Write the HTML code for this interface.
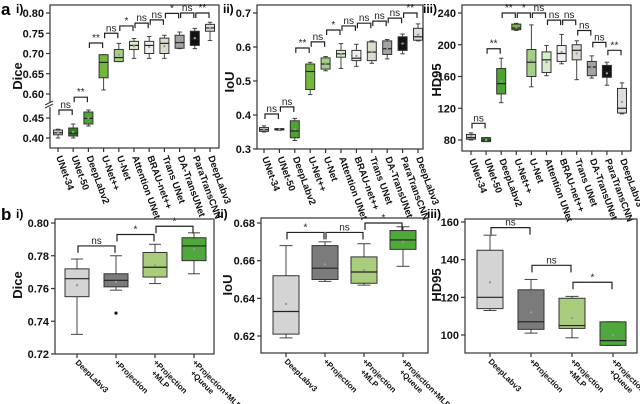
<!DOCTYPE html>
<html><head><meta charset="utf-8">
<style>
body{margin:0;background:#fff;}
svg{display:block;font-family:"Liberation Sans",Arial,sans-serif;font-weight:bold;}
</style></head><body>
<svg id="fig" width="640" height="404" viewBox="0 0 640 404" xmlns="http://www.w3.org/2000/svg">
<text x="1" y="15" font-size="17">a</text>
<text x="16" y="13" font-size="12">i)</text>
<text x="223" y="13" font-size="12">ii)</text>
<text x="423" y="13" font-size="12">iii)</text>
<text x="1" y="220" font-size="17">b</text>
<text x="16" y="218" font-size="12">i)</text>
<text x="217" y="218" font-size="12">ii)</text>
<text x="427" y="218" font-size="12">iii)</text>
</svg>
<script>
// ---------- data ----------
const catsA = ["UNet-34","UNet-50","DeepLabv2","U-Net++","U-Net","Attention UNet","BRAU-net++","Trans UNet","DA-TransUNet","ParaTransCNN","DeepLabv3"];
const colorsA = ["#cfcfcf","#2f7a1f","#4da332","#73b83a","#a6cf86","#d7ecc9","#f1f1f1","#dcdccc","#a3a3a3","#111111","#dedede"];
// [min, q1, median, q3, max]
const diceA = [[0.40,0.408,0.413,0.42,0.422],[0.40,0.405,0.412,0.425,0.435],[0.43,0.435,0.449,0.465,0.47],[0.61,0.64,0.678,0.697,0.697],[0.68,0.68,0.69,0.71,0.725],[0.688,0.71,0.72,0.73,0.737],[0.688,0.70,0.72,0.73,0.742],[0.688,0.70,0.725,0.738,0.745],[0.712,0.713,0.727,0.745,0.753],[0.712,0.72,0.735,0.755,0.762],[0.732,0.755,0.763,0.772,0.777]];
const diceAMean = [0.414,0.415,0.45,0.67,0.697,0.718,0.716,0.718,0.73,0.738,0.762];
const iouA = [[0.35,0.352,0.357,0.363,0.368],[0.355,0.356,0.358,0.36,0.36],[0.325,0.333,0.353,0.383,0.39],[0.46,0.475,0.528,0.55,0.555],[0.53,0.535,0.55,0.568,0.572],[0.537,0.57,0.58,0.59,0.61],[0.543,0.56,0.567,0.59,0.608],[0.552,0.56,0.585,0.615,0.618],[0.565,0.578,0.595,0.618,0.622],[0.58,0.59,0.61,0.63,0.638],[0.618,0.62,0.63,0.655,0.668]];
const iouAMean = [0.357,0.358,0.358,0.518,0.552,0.578,0.574,0.586,0.597,0.61,0.636];
const hdA = [[80,81,83,87,89],[78,78,80,83,83],[127,138,151,170,183],[218,219,221,226,227],[147,160,178,194,225],[161,165,181,191,199],[176,179,189,199,213],[156,181,193,200,205],[158,161,172,179,186],[149,159,166,174,178],[113,114,120,145,152]];
const hdAMean = [85,80,154,222,180,178,191,189,172,164,128];
// brackets: [from, to, label, value]
const diceABr = [[0,1,"ns",0.47],[1,2,"**",0.502],[2,3,"**",0.726],[3,4,"ns",0.75],[4,5,"*",0.768],[5,6,"ns",0.775],[6,7,"ns",0.783],[7,8,"*",0.799],[8,9,"ns",0.80],[9,10,"**",0.80]];
const iouABr = [[0,1,"ns",0.403],[1,2,"ns",0.424],[2,3,"**",0.597],[3,4,"ns",0.615],[4,5,"*",0.65],[5,6,"ns",0.662],[6,7,"ns",0.67],[7,8,"ns",0.676],[8,9,"ns",0.685],[9,10,"**",0.70]];
const hdABr = [[0,1,"ns",101],[1,2,"**",195],[2,3,"**",240],[3,4,"*",240],[4,5,"ns",240],[5,6,"ns",231],[6,7,"ns",231],[7,8,"ns",218],[8,9,"ns",203],[9,10,"**",193]];
const diceTicks = [0.40,0.45,0.60,0.65,0.70,0.75,0.80];
const iouATicks = [0.3,0.4,0.5,0.6,0.7];
const hdATicks = [80,120,160,200,240];

const catsB = [["DeepLabv3"],["+Projection"],["+Projection","+MLP"],["+Projection+MLP","+Queue"]];
const colorsB = ["#d4d4d4","#7b7b7b","#a9cd7c","#4fa83b"];
const diceB = [[0.732,0.755,0.766,0.772,0.778],[0.759,0.761,0.765,0.769,0.780],[0.763,0.767,0.773,0.782,0.787],[0.769,0.777,0.786,0.791,0.794]];
const diceBMean = [0.762,0.764,0.774,0.784];
const diceBOut = [[],[0.745],[],[]];
const iouB = [[0.619,0.621,0.633,0.652,0.668],[0.649,0.650,0.656,0.668,0.670],[0.647,0.648,0.654,0.662,0.669],[0.657,0.666,0.671,0.676,0.678]];
const iouBMean = [0.637,0.658,0.655,0.670];
const hdB = [[113,114,120,145,153],[101,103,107,124,129.5],[98.5,103.5,105,119.5,120.5],[94.5,94.5,97,107,107]];
const hdBMean = [128,112,109,100];
const diceBBr = [[0,1,"ns",0.786],[1,2,"*",0.793],[2,3,"*",0.798]];
const iouBBr = [[0,1,"*",0.675],[1,2,"ns",0.675],[2,3,"*",0.680]];
const hdBBr = [[0,1,"ns",157],[1,2,"ns",137],[2,3,"*",128]];
const diceBTicks = [0.72,0.74,0.76,0.78,0.80];
const iouBTicks = [0.62,0.64,0.66,0.68];
const hdBTicks = [100,120,140,160];

// ---------- drawing ----------
const svg = document.getElementById('fig');
const NS = "http://www.w3.org/2000/svg";
function mk(tag, attrs, parent){
  const e = document.createElementNS(NS, tag);
  for (const k in attrs) e.setAttribute(k, attrs[k]);
  (parent||svg).appendChild(e);
  return e;
}
function panel(p){
  const g = mk('g', {});
  
  
  const frame = mk('rect', {x:p.x0, y:p.y0, width:p.x1-p.x0, height:p.y1-p.y0, fill:'none', stroke:'#333', 'stroke-width':1.2}, g);
  
  
  const n = p.cats.length;
  const xs = i => p.cx0 + i*(p.cx1-p.cx0)/(n-1);
  p.ticks.forEach(t=>{
    const y = p.ys(t);
    mk('line',{x1:p.x0-4,x2:p.x0,y1:y,y2:y,stroke:'#333','stroke-width':1.2},g);
    const tx = mk('text',{x:p.x0-6,y:y+4,'font-size':11,'text-anchor':'end',fill:'#111'},g);
    tx.textContent = p.fmt(t);
    
    
  });
  if (p.brk){
    mk('rect',{x:p.x0-5,y:p.brk-3,width:10,height:5,fill:'#fff'},g);
    mk('line',{x1:p.x0-5,x2:p.x0+3,y1:p.brk,y2:p.brk-4,stroke:'#333','stroke-width':1},g);
    mk('line',{x1:p.x0-5,x2:p.x0+3,y1:p.brk+3,y2:p.brk-1,stroke:'#333','stroke-width':1},g);
  }
  const yt = mk('text',{x:p.tx,y:p.ty,'font-size':13,'text-anchor':'middle',transform:`rotate(-90 ${p.tx} ${p.ty})`,fill:'#111'},g);
  yt.textContent = p.title;
  
  
  p.data.forEach((d,i)=>{
    const x = xs(i), w = p.bw;
    const bg = mk('g',{},g);
    
    
    mk('line',{x1:x,x2:x,y1:p.ys(d[0]),y2:p.ys(d[4]),stroke:'#444','stroke-width':1},bg);
    mk('line',{x1:x-w/4,x2:x+w/4,y1:p.ys(d[0]),y2:p.ys(d[0]),stroke:'#444','stroke-width':1},bg);
    mk('line',{x1:x-w/4,x2:x+w/4,y1:p.ys(d[4]),y2:p.ys(d[4]),stroke:'#444','stroke-width':1},bg);
    const top = p.ys(d[3]), bot = p.ys(d[1]);
    mk('rect',{x:x-w/2,y:top,width:w,height:Math.max(bot-top,1),fill:p.colors[i],stroke:'#333','stroke-width':1},bg);
    mk('line',{x1:x-w/2,x2:x+w/2,y1:p.ys(d[2]),y2:p.ys(d[2]),stroke:'#222','stroke-width':1.2},bg);
    if (p.means) mk('circle',{cx:x,cy:p.ys(p.means[i]),r:1.2,fill:'#999'},bg);
    if (p.outs) p.outs[i].forEach(o=>mk('circle',{cx:x,cy:p.ys(o),r:1.6,fill:'#111'},bg));
    mk('line',{x1:x,x2:x,y1:p.y1,y2:p.y1+4,stroke:'#333','stroke-width':1.2},g);
    const lx = x - 2, ly = p.y1 + 9;
    const lt = mk('text',{x:lx,y:ly,'font-size':p.lfs,transform:`rotate(${p.rot} ${lx} ${ly})`,fill:'#111'},g);
    p.cats[i].forEach((s,k)=>{
      const ts = mk('tspan',{x:lx+(k?6:0),dy:k?p.lfs+1:0},lt);
      ts.textContent = s;
    });
    
    
  });
  p.br.forEach(b=>{
    const xa = xs(b[0])+1, xb = xs(b[1])-1, y = p.ys(b[3]);
    const bg = mk('g',{},g);
    
    
    mk('path',{d:`M${xa} ${y+p.leg} V${y} H${xb} V${y+p.leg}`,fill:'none',stroke:'#222','stroke-width':1.2},bg);
    const t = mk('text',{x:(xa+xb)/2,y:y-2,'font-size':p.bfs,'text-anchor':'middle',fill:'#222','font-weight':'normal'},bg);
    t.textContent = b[2];
  });
}
const lin = (v0,p0,v1,p1)=>v=>p0+(v-v0)*(p1-p0)/(v1-v0);
const diceUp = lin(0.80,13,0.60,94), diceLo = lin(0.45,118,0.40,138);
const toA = c=>[c];
panel({name:'chart-a-dice',x0:50,x1:219,y0:5,y1:148,cx0:58,cx1:210,bw:9,cats:catsA.map(toA),colors:colorsA,data:diceA,means:diceAMean,br:diceABr,
  ticks:diceTicks,ys:v=>v>=0.55?diceUp(v):diceLo(v),fmt:t=>t.toFixed(2),brk:105,title:'Dice',tx:22,ty:76,rot:70,lfs:9.5,bfs:10,leg:5});
panel({name:'chart-a-iou',x0:257,x1:423,y0:5,y1:149,cx0:264,cx1:418,bw:9,cats:catsA.map(toA),colors:colorsA,data:iouA,means:iouAMean,br:iouABr,
  ticks:iouATicks,ys:lin(0.7,13,0.3,149),fmt:t=>t.toFixed(1),title:'IoU',tx:234,ty:82,rot:70,lfs:9.5,bfs:10,leg:5});
panel({name:'chart-a-hd95',x0:462,x1:631,y0:5,y1:151,cx0:471,cx1:622,bw:9,cats:catsA.map(toA),colors:colorsA,data:hdA,means:hdAMean,br:hdABr,
  ticks:hdATicks,ys:lin(240,13,80,140),fmt:t=>t,title:'HD95',tx:441,ty:80,rot:70,lfs:9.5,bfs:10,leg:5});
panel({name:'chart-b-dice',x0:55,x1:214,y0:219,y1:354,cx0:77,cx1:194,bw:24,cats:catsB,colors:colorsB,data:diceB,means:diceBMean,outs:diceBOut,br:diceBBr,
  ticks:diceBTicks,ys:lin(0.80,223,0.72,354),fmt:t=>t.toFixed(2),title:'Dice',tx:22,ty:285,rot:45,lfs:8,bfs:10,leg:7});
panel({name:'chart-b-iou',x0:261,x1:428,y0:218,y1:353,cx0:286,cx1:403,bw:26,cats:catsB,colors:colorsB,data:iouB,means:iouBMean,br:iouBBr,
  ticks:iouBTicks,ys:lin(0.68,223,0.62,336),fmt:t=>t.toFixed(2),title:'IoU',tx:232,ty:285,rot:45,lfs:8,bfs:10,leg:7});
panel({name:'chart-b-hd95',x0:465,x1:637,y0:219,y1:353,cx0:490,cx1:613,bw:26,cats:catsB,colors:colorsB,data:hdB,means:hdBMean,br:hdBBr,
  ticks:hdBTicks,ys:lin(160,222,100,335),fmt:t=>t,title:'HD95',tx:441,ty:285,rot:45,lfs:8,bfs:10,leg:7});
</script>
</body></html>
